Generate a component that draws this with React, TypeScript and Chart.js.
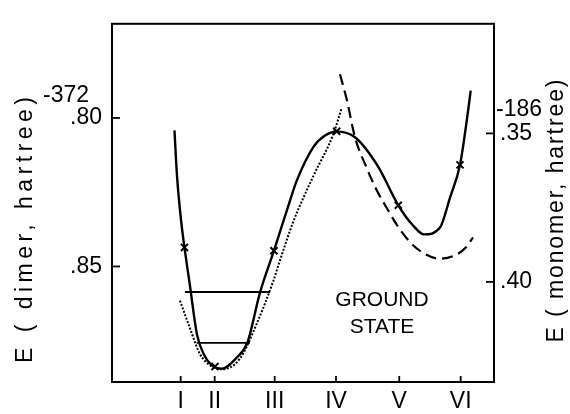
import React, { useEffect, useRef } from 'react';
import { Chart, registerables } from 'chart.js';

Chart.register(...registerables);

// Reaction-coordinate tick positions and their labels
const xTickValues = [1.11, 1.667, 2.651, 3.656, 4.693, 5.7];
const xTickLabels = ['I', 'II', 'III', 'IV', 'V', 'VI'];

// Left axis: dimer energy (hartree)
const dimerTicks = [-372.8, -372.85];
const dimerTickLabels = ['.80', '.85'];
// Right axis: monomer energy (hartree)
const monomerTicks = [-186.35, -186.4];
const monomerTickLabels = ['.35', '.40'];

// Solid curve (dimer ground-state potential)
const solidX = [1.008, 1.05, 1.115, 1.172, 1.262, 1.377, 1.492, 1.623, 1.782, 2.028, 2.202, 2.41, 2.639, 2.902, 3.011, 3.284, 3.475, 3.667, 3.967, 4.344, 4.677, 4.923, 5.098, 5.361, 5.525, 5.689, 5.798, 5.864];
const solidE = [-372.8042, -372.8196, -372.8343, -372.8436, -372.8565, -372.8729, -372.8797, -372.8833, -372.8844, -372.8807, -372.8757, -372.8588, -372.8447, -372.8278, -372.8212, -372.8098, -372.8059, -372.8046, -372.8065, -372.8163, -372.8294, -372.8363, -372.8392, -372.8369, -372.8268, -372.8158, -372.8011, -372.7908];

// Computed points (x markers)
const markX = [1.172, 1.672, 2.639, 3.667, 4.677, 5.689];
const markE = [-372.8436, -372.8837, -372.8447, -372.8045, -372.8294, -372.8158];

// Dotted curve
const dottedX = [1.098, 1.262, 1.426, 1.623, 1.803, 2.082, 2.356, 2.628, 2.721, 2.956, 3.284, 3.611, 3.749];
const dottedE = [-372.8615, -372.8708, -372.8795, -372.8837, -372.8846, -372.881, -372.8693, -372.8549, -372.849, -372.8349, -372.8196, -372.8055, -372.7967];

// Dashed curve
const dashedX = [3.721, 3.836, 3.967, 4.148, 4.328, 4.508, 4.672, 4.869, 5.082, 5.361, 5.623, 5.787, 5.902];
const dashedE = [-372.7853, -372.7941, -372.8065, -372.8163, -372.8245, -372.831, -372.8366, -372.8418, -372.8454, -372.8474, -372.8461, -372.8435, -372.8402];

// Vibrational levels
const levelE = [-372.8586, -372.8757];
const levelXStart = [1.18, 1.372];
const levelXEnd = [2.574, 2.246];

const FONT = '"Liberation Sans", Arial, sans-serif';

const zip = (xs: number[], ys: number[]) => xs.map((x, i) => ({ x, y: ys[i] }));

function drawSpacedRotated(ctx: CanvasRenderingContext2D, text: string, cx: number, cy: number, target: number) {
  ctx.save();
  (ctx as any).letterSpacing = '0px';
  const w = ctx.measureText(text).width;
  const sp = Math.max(0, (target - w) / (text.length - 1));
  (ctx as any).letterSpacing = sp + 'px';
  ctx.translate(cx, cy);
  ctx.rotate(-Math.PI / 2);
  ctx.textAlign = 'left';
  ctx.textBaseline = 'middle';
  ctx.fillText(text, -target / 2, 0);
  ctx.restore();
}

const decorPlugin = {
  id: 'decor',
  afterDraw(chart: any) {
    const { ctx, chartArea: a, scales } = chart;
    ctx.save();
    ctx.strokeStyle = '#000';
    ctx.fillStyle = '#000';
    ctx.lineWidth = 2;
    ctx.strokeRect(a.left, a.top, a.right - a.left, a.bottom - a.top);
    ctx.lineWidth = 1.8;
    const seg = (x1: number, y1: number, x2: number, y2: number) => {
      ctx.beginPath();
      ctx.moveTo(x1, y1);
      ctx.lineTo(x2, y2);
      ctx.stroke();
    };
    dimerTicks.forEach((v) => {
      const y = scales.y.getPixelForValue(v);
      seg(a.left, y, a.left + 8, y);
    });
    monomerTicks.forEach((v) => {
      const y = scales.y2.getPixelForValue(v);
      seg(a.right - 8, y, a.right, y);
    });
    xTickValues.forEach((v) => {
      const x = scales.x.getPixelForValue(v);
      seg(x, a.bottom, x, a.bottom - 6);
    });
    ctx.font = '23px ' + FONT;
    ctx.textBaseline = 'middle';
    ctx.textAlign = 'right';
    ctx.fillText('-372', 89, scales.y.getPixelForValue(dimerTicks[0]) - 22);
    ctx.textAlign = 'left';
    ctx.fillText('-186', 496, scales.y2.getPixelForValue(monomerTicks[0]) - 24);

    ctx.font = '23px ' + FONT;
    drawSpacedRotated(ctx, 'E ( dimer, hartree)', 26, 230, 266);
    drawSpacedRotated(ctx, 'E ( monomer, hartree)', 557, 211, 263);

    ctx.font = '21px ' + FONT;
    ctx.textAlign = 'center';
    ctx.textBaseline = 'middle';
    ctx.fillText('GROUND', a.left + 270, 300);
    ctx.fillText('STATE', a.left + 270, 327);
    ctx.restore();
  },
};

export default function App() {
  const ref = useRef<HTMLCanvasElement>(null);
  useEffect(() => {
    if (!ref.current) return;
    const line = (data: any, extra: any) => ({
      type: 'line',
      data,
      pointRadius: 0,
      borderColor: '#000',
      backgroundColor: '#000',
      fill: false,
      yAxisID: 'y',
      ...extra,
    });
    const datasets: any[] = [
      line(zip(solidX, solidE), { borderWidth: 2.4, cubicInterpolationMode: 'monotone' }),
      line(zip(dottedX, dottedE), { borderWidth: 2, borderDash: [2, 1.6], cubicInterpolationMode: 'monotone' }),
      line(zip(dashedX, dashedE), { borderWidth: 2.2, borderDash: [11, 6], cubicInterpolationMode: 'monotone' }),
      ...levelE.map((e, i) =>
        line([{ x: levelXStart[i], y: e }, { x: levelXEnd[i], y: e }], { borderWidth: 1.8 })
      ),
      {
        type: 'line',
        data: zip(markX, markE),
        showLine: false,
        pointStyle: 'crossRot',
        pointRadius: 5,
        pointBorderWidth: 2,
        borderColor: '#000',
        backgroundColor: '#000',
        yAxisID: 'y',
      },
    ];
    const chart = new Chart(ref.current, {
      type: 'line',
      data: { datasets },
      plugins: [decorPlugin],
      options: {
        animation: false,
        responsive: false,
        layout: { padding: { top: 13, left: 0, right: 0, bottom: 0 } },
        plugins: { legend: { display: false }, tooltip: { enabled: false } },
        scales: {
          x: {
            type: 'linear',
            position: 'bottom',
            min: -0.016,
            max: 6.246,
            grid: { display: false, drawTicks: false },
            border: { display: false },
            afterBuildTicks: (s: any) => {
              s.ticks = xTickValues.map((v) => ({ value: v }));
            },
            afterFit: (s: any) => {
              s.height = 32;
            },
            ticks: {
              autoSkip: false,
              maxRotation: 0,
              padding: 6,
              color: '#000',
              font: { family: FONT, size: 23 },
              callback: (_v: any, i: number) => xTickLabels[i],
            },
          },
          y: {
            type: 'linear',
            position: 'left',
            min: -372.8889,
            max: -372.7683,
            grid: { display: false, drawTicks: false },
            border: { display: false },
            afterBuildTicks: (s: any) => {
              s.ticks = dimerTicks.map((v) => ({ value: v }));
            },
            afterFit: (s: any) => {
              s.width = 112;
            },
            ticks: {
              padding: 10,
              color: '#000',
              font: { family: FONT, size: 23 },
              callback: (_v: any, i: number) => dimerTickLabels[i],
            },
          },
          y2: {
            type: 'linear',
            position: 'right',
            min: -186.4337,
            max: -186.3131,
            grid: { display: false, drawTicks: false },
            border: { display: false },
            afterBuildTicks: (s: any) => {
              s.ticks = monomerTicks.map((v) => ({ value: v }));
            },
            afterFit: (s: any) => {
              s.width = 76;
            },
            ticks: {
              padding: 6,
              color: '#000',
              font: { family: FONT, size: 23 },
              callback: (_v: any, i: number) => monomerTickLabels[i],
            },
          },
        },
      } as any,
    });
    return () => chart.destroy();
  }, []);
  return (
    <div style={{ position: 'fixed', left: 0, top: 0, width: 570, height: 414, background: '#fff' }}>
      <canvas ref={ref} width={570} height={414} />
    </div>
  );
}
